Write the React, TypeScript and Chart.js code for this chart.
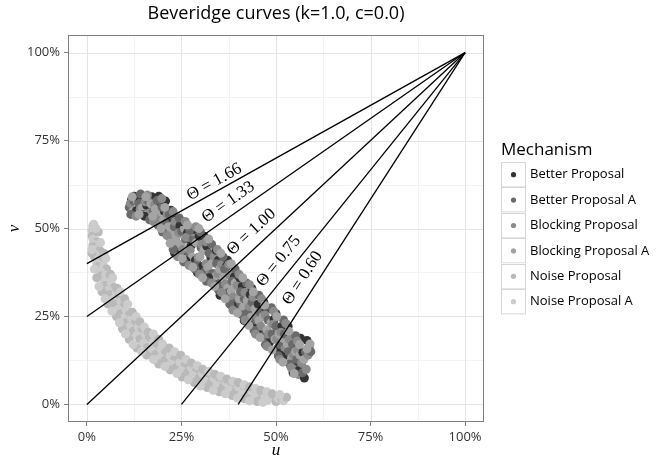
import React, { useEffect, useRef } from "react";
import { Chart, registerables } from "chart.js";
Chart.register(...registerables);

const TITLE = "Beveridge curves (k=1.0, c=0.0)";
const X_TITLE = "u";
const Y_TITLE = "v";
const LEGEND_TITLE = "Mechanism";
const mechanisms = [
  "Better Proposal",
  "Better Proposal A",
  "Blocking Proposal",
  "Blocking Proposal A",
  "Noise Proposal",
  "Noise Proposal A",
];
const colors = ["#333333", "#6A6A6A", "#8B8B8B", "#A4A4A4", "#B9B9B9", "#CCCCCC"];

const betterProposal: [number, number][] = [
  [0.118, 0.582], [0.131, 0.551], [0.145, 0.584], [0.158, 0.566], [0.172, 0.59], [0.183, 0.53],
  [0.194, 0.575], [0.205, 0.548], [0.214, 0.492], [0.226, 0.53], [0.236, 0.462], [0.246, 0.508],
  [0.256, 0.43], [0.266, 0.488], [0.276, 0.452], [0.287, 0.41], [0.297, 0.478], [0.306, 0.392],
  [0.317, 0.45], [0.328, 0.418], [0.338, 0.35], [0.348, 0.41], [0.358, 0.33], [0.369, 0.392],
  [0.379, 0.3], [0.39, 0.362], [0.4, 0.28], [0.411, 0.335], [0.421, 0.25], [0.432, 0.312],
  [0.443, 0.228], [0.453, 0.285], [0.463, 0.21], [0.474, 0.268], [0.484, 0.178], [0.495, 0.242],
  [0.505, 0.16], [0.516, 0.222], [0.527, 0.14], [0.538, 0.195], [0.549, 0.112], [0.56, 0.172],
  [0.571, 0.148], [0.582, 0.182], [0.556, 0.095],
  [0.125, 0.592], [0.152, 0.535], [0.19, 0.592], [0.208, 0.578], [0.222, 0.552], [0.232, 0.43],
  [0.25, 0.52], [0.262, 0.408], [0.282, 0.498], [0.292, 0.375], [0.31, 0.478], [0.322, 0.36],
  [0.342, 0.438], [0.352, 0.31], [0.372, 0.41], [0.384, 0.28], [0.404, 0.36], [0.416, 0.238],
  [0.436, 0.33], [0.448, 0.2], [0.468, 0.29], [0.48, 0.165], [0.5, 0.258], [0.512, 0.14],
  [0.532, 0.222], [0.545, 0.09], [0.565, 0.188], [0.575, 0.075],
];
const betterProposalA: [number, number][] = [
  [0.112, 0.56], [0.124, 0.578], [0.137, 0.572], [0.15, 0.54], [0.163, 0.578], [0.176, 0.548],
  [0.188, 0.51], [0.199, 0.56], [0.21, 0.515], [0.22, 0.478], [0.231, 0.505], [0.241, 0.448],
  [0.251, 0.492], [0.261, 0.47], [0.271, 0.425], [0.281, 0.47], [0.292, 0.4], [0.302, 0.445],
  [0.312, 0.378], [0.323, 0.43], [0.333, 0.372], [0.343, 0.4], [0.353, 0.345], [0.364, 0.385],
  [0.374, 0.318], [0.384, 0.35], [0.395, 0.29], [0.406, 0.32], [0.416, 0.3], [0.426, 0.262],
  [0.437, 0.29], [0.448, 0.24], [0.458, 0.262], [0.468, 0.195], [0.479, 0.24], [0.49, 0.2],
  [0.5, 0.222], [0.511, 0.17], [0.522, 0.2], [0.533, 0.15], [0.544, 0.17], [0.555, 0.128],
  [0.566, 0.108], [0.578, 0.15], [0.588, 0.165],
  [0.116, 0.54], [0.142, 0.598], [0.166, 0.525], [0.186, 0.58], [0.2, 0.49], [0.218, 0.54],
  [0.228, 0.44], [0.244, 0.53], [0.256, 0.405], [0.272, 0.495], [0.286, 0.385], [0.3, 0.49],
  [0.316, 0.35], [0.33, 0.455], [0.348, 0.325], [0.36, 0.42], [0.378, 0.285], [0.392, 0.385],
  [0.41, 0.255], [0.422, 0.345], [0.442, 0.21], [0.455, 0.31], [0.472, 0.17], [0.488, 0.275],
  [0.506, 0.138], [0.52, 0.24], [0.536, 0.115], [0.552, 0.195], [0.57, 0.09], [0.592, 0.15],
];
const blockingProposal: [number, number][] = [
  [0.115, 0.572], [0.128, 0.588], [0.141, 0.555], [0.154, 0.576], [0.167, 0.545], [0.179, 0.568],
  [0.19, 0.525], [0.202, 0.505], [0.212, 0.54], [0.222, 0.468], [0.233, 0.52], [0.243, 0.488],
  [0.253, 0.44], [0.263, 0.475], [0.273, 0.438], [0.283, 0.49], [0.294, 0.418], [0.304, 0.455],
  [0.315, 0.4], [0.325, 0.37], [0.336, 0.42], [0.346, 0.372], [0.356, 0.398], [0.366, 0.342],
  [0.377, 0.368], [0.387, 0.305], [0.397, 0.338], [0.408, 0.268], [0.418, 0.318], [0.429, 0.278],
  [0.439, 0.305], [0.45, 0.25], [0.46, 0.222], [0.471, 0.255], [0.481, 0.2], [0.492, 0.228],
  [0.502, 0.185], [0.513, 0.205], [0.524, 0.158], [0.535, 0.185], [0.546, 0.14], [0.557, 0.155],
  [0.568, 0.118], [0.56, 0.085], [0.585, 0.14],
  [0.13, 0.535], [0.16, 0.595], [0.176, 0.52], [0.198, 0.585], [0.212, 0.48], [0.228, 0.548],
  [0.24, 0.42], [0.26, 0.52], [0.27, 0.395], [0.288, 0.505], [0.298, 0.37], [0.314, 0.462],
  [0.33, 0.345], [0.345, 0.44], [0.356, 0.318], [0.375, 0.398], [0.386, 0.268], [0.402, 0.37],
  [0.418, 0.24], [0.43, 0.34], [0.446, 0.2], [0.462, 0.3], [0.476, 0.165], [0.494, 0.265],
  [0.51, 0.128], [0.526, 0.23], [0.54, 0.105], [0.556, 0.18], [0.58, 0.1],
];
const blockingProposalA: [number, number][] = [
  [0.121, 0.548], [0.134, 0.575], [0.147, 0.56], [0.16, 0.54], [0.169, 0.57], [0.181, 0.555],
  [0.192, 0.548], [0.203, 0.525], [0.216, 0.505], [0.226, 0.488], [0.238, 0.48], [0.248, 0.455],
  [0.258, 0.5], [0.268, 0.445], [0.278, 0.418], [0.289, 0.46], [0.299, 0.42], [0.309, 0.438],
  [0.32, 0.39], [0.331, 0.402], [0.341, 0.365], [0.351, 0.385], [0.361, 0.36], [0.372, 0.33],
  [0.382, 0.322], [0.392, 0.345], [0.403, 0.3], [0.414, 0.278], [0.424, 0.295], [0.434, 0.248],
  [0.445, 0.272], [0.455, 0.238], [0.466, 0.25], [0.476, 0.212], [0.487, 0.232], [0.497, 0.185],
  [0.508, 0.2], [0.519, 0.188], [0.53, 0.172], [0.541, 0.132], [0.552, 0.15], [0.563, 0.14],
  [0.574, 0.128], [0.545, 0.1], [0.59, 0.172],
  [0.12, 0.59], [0.138, 0.54], [0.156, 0.59], [0.174, 0.535], [0.196, 0.5], [0.206, 0.56],
  [0.22, 0.458], [0.234, 0.465], [0.252, 0.415], [0.266, 0.51], [0.28, 0.39], [0.296, 0.5],
  [0.306, 0.36], [0.322, 0.47], [0.338, 0.335], [0.354, 0.43], [0.366, 0.3], [0.382, 0.4],
  [0.398, 0.26], [0.412, 0.36], [0.428, 0.225], [0.44, 0.32], [0.458, 0.19], [0.47, 0.282],
  [0.49, 0.155], [0.502, 0.25], [0.518, 0.12], [0.534, 0.208], [0.548, 0.088], [0.562, 0.17],
  [0.582, 0.158],
];
const noiseProposal: [number, number][] = [
  [0.016, 0.508], [0.022, 0.492], [0.014, 0.478], [0.028, 0.462], [0.016, 0.448], [0.034, 0.438],
  [0.02, 0.42], [0.042, 0.41], [0.03, 0.392], [0.052, 0.385], [0.038, 0.365], [0.06, 0.358],
  [0.048, 0.338], [0.072, 0.332], [0.06, 0.312], [0.084, 0.305], [0.072, 0.285], [0.098, 0.28],
  [0.088, 0.258], [0.112, 0.255], [0.104, 0.232], [0.128, 0.232], [0.122, 0.208], [0.146, 0.21],
  [0.14, 0.185], [0.165, 0.188], [0.16, 0.162], [0.186, 0.165], [0.182, 0.142], [0.208, 0.148],
  [0.206, 0.125], [0.232, 0.13], [0.236, 0.105], [0.26, 0.112], [0.266, 0.09], [0.29, 0.096],
  [0.296, 0.074], [0.32, 0.082], [0.328, 0.06], [0.352, 0.068], [0.36, 0.048], [0.384, 0.056],
  [0.394, 0.036], [0.418, 0.044], [0.428, 0.026], [0.452, 0.032], [0.462, 0.016], [0.486, 0.022],
  [0.5, 0.008], [0.515, 0.016],
  [0.03, 0.49], [0.013, 0.43], [0.045, 0.43], [0.026, 0.36], [0.062, 0.37], [0.04, 0.32],
  [0.08, 0.33], [0.056, 0.285], [0.1, 0.3], [0.078, 0.25], [0.12, 0.262], [0.094, 0.215],
  [0.14, 0.235], [0.112, 0.185], [0.162, 0.205], [0.132, 0.16], [0.19, 0.185], [0.158, 0.14],
  [0.218, 0.16], [0.19, 0.115], [0.248, 0.14], [0.22, 0.098], [0.276, 0.118], [0.252, 0.078],
  [0.306, 0.1], [0.284, 0.062], [0.338, 0.086], [0.318, 0.048], [0.37, 0.072], [0.35, 0.036],
  [0.4, 0.062], [0.384, 0.025], [0.43, 0.05], [0.416, 0.016], [0.46, 0.04], [0.45, 0.008],
  [0.49, 0.03], [0.528, 0.02],
];
const noiseProposalA: [number, number][] = [
  [0.018, 0.512], [0.013, 0.494], [0.016, 0.47], [0.016, 0.455], [0.024, 0.44], [0.02, 0.428],
  [0.032, 0.418], [0.026, 0.402], [0.044, 0.395], [0.036, 0.378], [0.05, 0.368], [0.046, 0.35],
  [0.064, 0.345], [0.056, 0.325], [0.078, 0.318], [0.068, 0.298], [0.09, 0.292], [0.082, 0.27],
  [0.104, 0.268], [0.096, 0.245], [0.118, 0.244], [0.112, 0.22], [0.136, 0.22], [0.132, 0.196],
  [0.155, 0.198], [0.15, 0.174], [0.175, 0.176], [0.172, 0.152], [0.196, 0.156], [0.194, 0.132],
  [0.22, 0.138], [0.222, 0.114], [0.246, 0.12], [0.25, 0.096], [0.276, 0.104], [0.28, 0.082],
  [0.305, 0.088], [0.312, 0.066], [0.336, 0.074], [0.344, 0.054], [0.368, 0.062], [0.376, 0.042],
  [0.4, 0.05], [0.41, 0.03], [0.436, 0.038], [0.444, 0.02], [0.47, 0.026], [0.478, 0.012],
  [0.505, 0.018], [0.52, 0.01],
  [0.024, 0.5], [0.036, 0.46], [0.013, 0.44], [0.05, 0.415], [0.02, 0.385], [0.068, 0.36],
  [0.032, 0.335], [0.088, 0.32], [0.048, 0.3], [0.108, 0.285], [0.066, 0.265], [0.13, 0.25],
  [0.086, 0.232], [0.152, 0.22], [0.102, 0.2], [0.176, 0.2], [0.122, 0.17], [0.2, 0.172],
  [0.145, 0.15], [0.232, 0.15], [0.176, 0.128], [0.262, 0.128], [0.206, 0.108], [0.292, 0.11],
  [0.238, 0.088], [0.322, 0.094], [0.268, 0.07], [0.354, 0.08], [0.3, 0.052], [0.386, 0.066],
  [0.334, 0.04], [0.416, 0.056], [0.366, 0.03], [0.446, 0.045], [0.398, 0.018], [0.476, 0.036],
  [0.43, 0.01], [0.51, 0.028], [0.465, 0.006],
];
const seriesData = [
  betterProposal,
  betterProposalA,
  blockingProposal,
  blockingProposalA,
  noiseProposal,
  noiseProposalA,
];

// Theta iso-lines: start points, all ending at (1, 1)
const thetaLabels = ["Θ = 1.66", "Θ = 1.33", "Θ = 1.00", "Θ = 0.75", "Θ = 0.60"];
const lineStartU = [0, 0, 0, 0.25, 0.4];
const lineStartV = [0.4, 0.25, 0, 0, 0];
const lineEndU = 1;
const lineEndV = 1;
const labelU = [0.337, 0.374, 0.435, 0.507, 0.57];
const labelV = [0.632, 0.575, 0.49, 0.407, 0.359];

const majorTicks = [0, 0.25, 0.5, 0.75, 1];
const minorTicks = [0.125, 0.375, 0.625, 0.875];
const AXIS_MIN = -0.05;
const AXIS_MAX = 1.05;

const SANS = "'Open Sans', 'Noto Sans', sans-serif";
const SERIF = "'Liberation Serif', 'DejaVu Serif', serif";

const decorPlugin = {
  id: "decor",
  beforeDatasetsDraw(chart: any) {
    const { ctx, chartArea: a, scales } = chart;
    const xs = scales.x;
    const ys = scales.y;
    ctx.save();
    ctx.fillStyle = "#ffffff";
    ctx.fillRect(a.left, a.top, a.right - a.left, a.bottom - a.top);
    ctx.lineWidth = 1;
    ctx.strokeStyle = "#F3F3F3";
    for (const t of minorTicks) {
      const px = Math.round(xs.getPixelForValue(t)) + 0.5;
      const py = Math.round(ys.getPixelForValue(t)) + 0.5;
      ctx.beginPath();
      ctx.moveTo(px, a.top);
      ctx.lineTo(px, a.bottom);
      ctx.moveTo(a.left, py);
      ctx.lineTo(a.right, py);
      ctx.stroke();
    }
    ctx.strokeStyle = "#E4E4E4";
    for (const t of majorTicks) {
      const px = Math.round(xs.getPixelForValue(t)) + 0.5;
      const py = Math.round(ys.getPixelForValue(t)) + 0.5;
      ctx.beginPath();
      ctx.moveTo(px, a.top);
      ctx.lineTo(px, a.bottom);
      ctx.moveTo(a.left, py);
      ctx.lineTo(a.right, py);
      ctx.stroke();
    }
    ctx.restore();
  },
  afterDatasetsDraw(chart: any) {
    const { ctx, scales } = chart;
    const xs = scales.x;
    const ys = scales.y;
    ctx.save();
    ctx.fillStyle = "#000000";
    ctx.font = `17px ${SERIF}`;
    ctx.textAlign = "center";
    ctx.textBaseline = "middle";
    thetaLabels.forEach((lab, i) => {
      const x0 = xs.getPixelForValue(lineStartU[i]);
      const y0 = ys.getPixelForValue(lineStartV[i]);
      const x1 = xs.getPixelForValue(lineEndU);
      const y1 = ys.getPixelForValue(lineEndV);
      const ang = Math.atan2(y1 - y0, x1 - x0);
      ctx.save();
      ctx.translate(xs.getPixelForValue(labelU[i]), ys.getPixelForValue(labelV[i]));
      ctx.rotate(ang);
      ctx.fillText(lab, 0, 0);
      ctx.restore();
    });
    ctx.restore();
  },
  afterDraw(chart: any) {
    const { ctx, chartArea: a } = chart;
    ctx.save();
    ctx.strokeStyle = "#7F7F7F";
    ctx.lineWidth = 1;
    ctx.strokeRect(a.left + 0.5, a.top + 0.5, a.right - a.left - 1, a.bottom - a.top - 1);
    ctx.fillStyle = "#000000";
    ctx.font = `18px ${SANS}`;
    ctx.textAlign = "center";
    ctx.textBaseline = "middle";
    ctx.fillText(TITLE, (a.left + a.right) / 2, 14);
    ctx.font = `italic 17px ${SERIF}`;
    ctx.fillText(X_TITLE, (a.left + a.right) / 2, 451);
    ctx.save();
    ctx.translate(15, (a.top + a.bottom) / 2);
    ctx.rotate(-Math.PI / 2);
    ctx.fillText(Y_TITLE, 0, 0);
    ctx.restore();
    ctx.textAlign = "left";
    ctx.font = `17px ${SANS}`;
    ctx.fillText(LEGEND_TITLE, 501, 150);
    const boxX = 501;
    const boxW = 25;
    const top0 = 162;
    const rowH = 25.4;
    mechanisms.forEach((m, i) => {
      const ty = top0 + i * rowH;
      ctx.fillStyle = "#ffffff";
      ctx.fillRect(boxX, ty, boxW, rowH);
      ctx.strokeStyle = "#D6D6D6";
      ctx.lineWidth = 1;
      ctx.strokeRect(boxX + 0.5, Math.round(ty) + 0.5, boxW - 1, rowH - 1);
      ctx.fillStyle = colors[i];
      ctx.beginPath();
      ctx.arc(boxX + boxW / 2, ty + rowH / 2, 2.6, 0, Math.PI * 2);
      ctx.fill();
      ctx.fillStyle = "#000000";
      ctx.font = `13px ${SANS}`;
      ctx.fillText(m, 530, ty + rowH / 2);
    });
    ctx.restore();
  },
};

export default function App() {
  const ref = useRef<HTMLCanvasElement | null>(null);
  useEffect(() => {
    if (!ref.current) return;
    const datasets: any[] = [];
    thetaLabels.forEach((lab, i) => {
      datasets.push({
        type: "line",
        label: lab,
        data: [
          { x: lineStartU[i], y: lineStartV[i] },
          { x: lineEndU, y: lineEndV },
        ],
        borderColor: "#000000",
        borderWidth: 1.3,
        pointRadius: 0,
        fill: false,
        order: 0,
      });
    });
    // points of all mechanisms interleaved row by row (like ggplot drawing rows in data order)
    const pts: { x: number; y: number }[] = [];
    const cols: string[] = [];
    const maxLen = Math.max(...seriesData.map((s) => s.length));
    for (let k = 0; k < maxLen; k++) {
      seriesData.forEach((s, i) => {
        if (k < s.length) {
          pts.push({ x: s[k][0], y: s[k][1] });
          cols.push(colors[i]);
        }
      });
    }
    datasets.push({
      type: "scatter",
      label: "points",
      data: pts,
      backgroundColor: cols,
      borderWidth: 0,
      pointRadius: 4.5,
      pointHoverRadius: 4.5,
      order: 1,
    });
    const tickCommon = {
      color: "#333333",
      font: { family: SANS, size: 13 },
      autoSkip: false,
      maxRotation: 0,
      callback: (v: any) => `${Math.round(Number(v) * 100)}%`,
    };
    const chart = new Chart(ref.current, {
      type: "scatter",
      data: { datasets },
      options: {
        responsive: false,
        animation: false,
        events: [],
        layout: { padding: { top: 35, right: 173, left: 0, bottom: 0 } },
        plugins: { legend: { display: false }, tooltip: { enabled: false }, title: { display: false } },
        scales: {
          x: {
            type: "linear",
            min: AXIS_MIN,
            max: AXIS_MAX,
            afterBuildTicks: (s: any) => {
              s.ticks = majorTicks.map((v) => ({ value: v }));
            },
            afterFit: (s: any) => {
              s.height = 38;
            },
            ticks: { ...tickCommon, padding: 3 },
            grid: { drawOnChartArea: false, drawTicks: true, tickLength: 4, color: "#7F7F7F" },
            border: { display: false },
          },
          y: {
            type: "linear",
            min: AXIS_MIN,
            max: AXIS_MAX,
            afterBuildTicks: (s: any) => {
              s.ticks = majorTicks.map((v) => ({ value: v }));
            },
            afterFit: (s: any) => {
              s.width = 68;
            },
            ticks: { ...tickCommon, padding: 4 },
            grid: { drawOnChartArea: false, drawTicks: true, tickLength: 4, color: "#7F7F7F" },
            border: { display: false },
          },
        },
      },
      plugins: [decorPlugin],
    });
    return () => chart.destroy();
  }, []);
  return (
    <div style={{ position: "absolute", left: 0, top: 0, width: 657, height: 460, background: "#fff" }}>
      <canvas ref={ref} width={657} height={460} style={{ display: "block" }} />
    </div>
  );
}
